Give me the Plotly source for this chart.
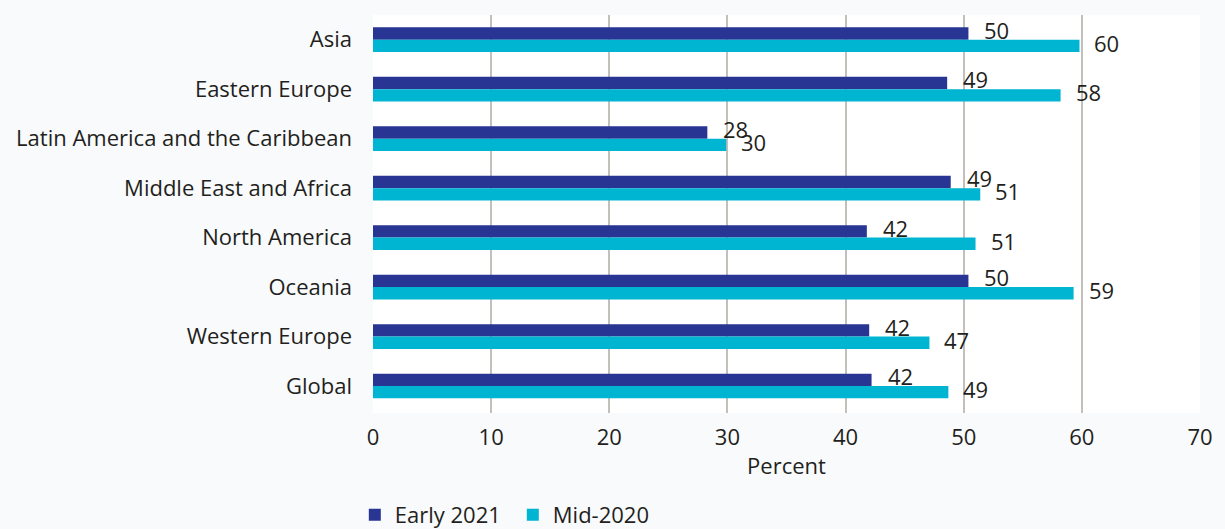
import plotly.graph_objects as go

categories = ["Asia", "Eastern Europe", "Latin America and the Caribbean",
              "Middle East and Africa", "North America", "Oceania",
              "Western Europe", "Global"]
early_2021 = [50.4, 48.6, 28.3, 48.9, 41.8, 50.4, 42.0, 42.2]
mid_2020 = [59.8, 58.2, 29.9, 51.4, 51.0, 59.3, 47.1, 48.7]
x_ticks = [0, 10, 20, 30, 40, 50, 60, 70]

FONT = "Open Sans"
TXT = "#231f20"
DARK = "#283593"
CYAN = "#00b5d2"
BG = "#f9fafc"

fig = go.Figure()
fig.add_trace(go.Bar(y=categories, x=early_2021, orientation="h", name="Early 2021",
                     marker=dict(color=DARK, line=dict(width=0))))
fig.add_trace(go.Bar(y=categories, x=mid_2020, orientation="h", name="Mid-2020",
                     marker=dict(color=CYAN, line=dict(width=0))))

annotations = []
for c, v in zip(categories, early_2021):
    annotations.append(dict(x=v, y=c, text=str(round(v)), showarrow=False,
                            xanchor="left", xshift=14, yshift=10,
                            font=dict(family=FONT, size=22, color=TXT)))
for c, v in zip(categories, mid_2020):
    annotations.append(dict(x=v, y=c, text=str(round(v)), showarrow=False,
                            xanchor="left", xshift=13, yshift=-3,
                            font=dict(family=FONT, size=22, color=TXT)))

fig.update_layout(
    width=1225, height=529,
    margin=dict(l=373, r=25, t=15, b=116, autoexpand=False),
    paper_bgcolor=BG, plot_bgcolor="#ffffff",
    barmode="group", bargap=0.5, bargroupgap=0,
    font=dict(family=FONT, size=22, color=TXT),
    annotations=annotations,
    legend=dict(orientation="h", x=-0.022, xanchor="left", y=-0.256, yanchor="middle",
                font=dict(family=FONT, size=22, color=TXT),
                itemwidth=30, entrywidth=113, tracegroupgap=0, bgcolor="rgba(0,0,0,0)"),
    showlegend=True,
)
fig.update_xaxes(range=[0, 70], tickvals=x_ticks, showgrid=True, gridcolor="#c3bfbb",
                 gridwidth=2, zeroline=False, showline=False,
                 ticks="", ticklabelstandoff=9,
                 title=dict(text="Percent", standoff=8, font=dict(size=22, color=TXT)),
                 tickfont=dict(size=22, color=TXT))
fig.update_yaxes(autorange="reversed", showgrid=False, zeroline=False,
                 ticks="", ticklabelstandoff=20, tickfont=dict(size=22, color=TXT))

fig.write_html("out.html", config={"displayModeBar": False},
               post_script="document.body.style.margin='0';document.body.style.background='%s';" % BG)
